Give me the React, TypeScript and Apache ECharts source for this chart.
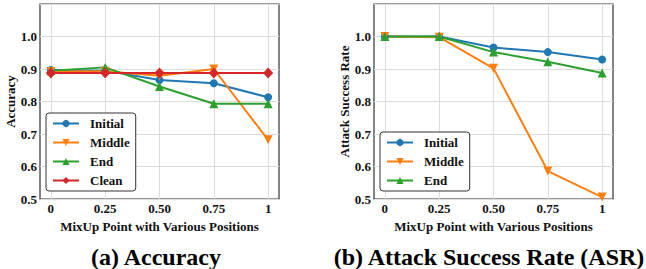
import React, { useEffect, useRef } from "react";
import * as echarts from "echarts";

const xValues = [0, 0.25, 0.5, 0.75, 1];
const xTickLabels = ["0", "0.25", "0.50", "0.75", "1"];
const yTicks = [0.5, 0.6, 0.7, 0.8, 0.9, 1.0];

const accInitial = [0.897, 0.895, 0.866, 0.856, 0.813];
const accMiddle = [0.892, 0.893, 0.879, 0.9, 0.682];
const accEnd = [0.895, 0.905, 0.846, 0.793, 0.793];
const accClean = [0.888, 0.888, 0.888, 0.888, 0.888];

const asrInitial = [1.0, 1.0, 0.966, 0.952, 0.929];
const asrMiddle = [1.0, 0.998, 0.902, 0.586, 0.506];
const asrEnd = [1.0, 1.0, 0.952, 0.922, 0.888];

const captions = ["(a) Accuracy", "(b) Attack Success Rate (ASR)"];
const xTitle = "MixUp Point with Various Positions";
const yTitles = ["Accuracy", "Attack Success Rate"];

const FONT = "Times New Roman, Liberation Serif, serif";
const TXT = "#111";
const C = { blue: "#1f77b4", orange: "#ff7f0e", green: "#2ca02c", red: "#d62728" };

const pairs = (ys: number[]) => xValues.map((x, i) => [x, ys[i]]);

export default function App() {
  const ref = useRef<HTMLDivElement>(null);
  useEffect(() => {
    if (!ref.current) return;
    const chart = echarts.init(ref.current, null, { renderer: "svg" });
    const mkX = (gi: number) => ({
      type: "value",
      gridIndex: gi,
      min: -0.05,
      max: 1.05,
      name: xTitle,
      nameLocation: "middle",
      nameGap: 14,
      nameTextStyle: { fontFamily: FONT, fontWeight: "bold", fontSize: 13, color: TXT },
      axisLine: { show: false },
      axisTick: { show: false, customValues: xValues },
      axisLabel: {
        customValues: xValues,
        margin: 3,
        fontFamily: FONT,
        fontWeight: "bold",
        fontSize: 13,
        color: TXT,
        formatter: (v: number) => {
          const i = xValues.findIndex((x) => Math.abs(x - v) < 1e-6);
          return i >= 0 ? xTickLabels[i] : "";
        },
      },
      splitLine: { show: true, lineStyle: { color: "#dcdcdc", width: 1 } },
    });
    const mkY = (gi: number) => ({
      type: "value",
      gridIndex: gi,
      min: 0.5,
      max: 1.1,
      interval: 0.1,
      name: yTitles[gi],
      nameLocation: "middle",
      nameGap: 22,
      nameTextStyle: { fontFamily: FONT, fontWeight: "bold", fontSize: 13, color: TXT },
      axisLine: { show: false },
      axisTick: { show: false },
      axisLabel: {
        margin: 3,
        fontFamily: FONT,
        fontWeight: "bold",
        fontSize: 13,
        color: TXT,
        formatter: (v: number) => {
          const t = yTicks.find((y) => Math.abs(y - v) < 1e-6);
          return t !== undefined ? t.toFixed(1) : "";
        },
      },
      splitLine: { show: true, lineStyle: { color: "#dcdcdc", width: 1 } },
    });
    const mkS = (name: string, data: number[], color: string, symbol: string, size: any, gi: number, rot = 0) => ({
      type: "line",
      name,
      xAxisIndex: gi,
      yAxisIndex: gi,
      data: pairs(data),
      symbol,
      symbolSize: size,
      symbolRotate: rot,
      showAllSymbol: true,
      lineStyle: { color, width: 2 },
      itemStyle: { color },
      z: 3,
    });
    const legendBase = {
      orient: "vertical",
      backgroundColor: "#fff",
      borderColor: "#333",
      borderWidth: 1,
      borderRadius: 3,
      padding: [4, 6, 4, 6],
      itemWidth: 26,
      itemHeight: 9,
      itemGap: 6,
      textStyle: { fontFamily: FONT, fontWeight: "bold", fontSize: 13, color: TXT, padding: [0, 0, 0, 6] },
      selectedMode: false,
    };
    chart.setOption({
      animation: false,
      textStyle: { fontFamily: FONT },
      grid: [
        { left: 40, right: 367, top: 4, bottom: 70, show: true, borderColor: "#333", borderWidth: 1.2 },
        { left: 374, right: 33, top: 4, bottom: 70, show: true, borderColor: "#333", borderWidth: 1.2 },
      ],
      xAxis: [mkX(0), mkX(1)],
      yAxis: [mkY(0), mkY(1)],
      legend: [
        { ...legendBase, left: 46, top: 113, data: ["Initial", "Middle", "End", "Clean"] },
        { ...legendBase, left: 380, top: 132, data: ["Initial", "Middle", "End"] },
      ],
      series: [
        mkS("Initial", accInitial, C.blue, "circle", 8, 0),
        mkS("Middle", accMiddle, C.orange, "triangle", 9, 0, 180),
        mkS("End", accEnd, C.green, "triangle", 9, 0),
        mkS("Clean", accClean, C.red, "diamond", [10, 11], 0),
        mkS("Initial", asrInitial, C.blue, "circle", 8, 1),
        mkS("Middle", asrMiddle, C.orange, "triangle", 9, 1, 180),
        mkS("End", asrEnd, C.green, "triangle", 9, 1),
      ],
      graphic: [
        {
          type: "text",
          x: 156,
          y: 257,
          style: { text: captions[0], font: "bold 24px Times New Roman, Liberation Serif, serif", fill: "#000", align: "center", verticalAlign: "middle" },
        },
        {
          type: "text",
          x: 489,
          y: 257,
          style: { text: captions[1], font: "bold 24px Times New Roman, Liberation Serif, serif", fill: "#000", align: "center", verticalAlign: "middle" },
        },
      ],
    });
    return () => chart.dispose();
  }, []);
  return <div ref={ref} style={{ position: "fixed", left: 0, top: 0, width: 646, height: 269, background: "#fff" }} />;
}
